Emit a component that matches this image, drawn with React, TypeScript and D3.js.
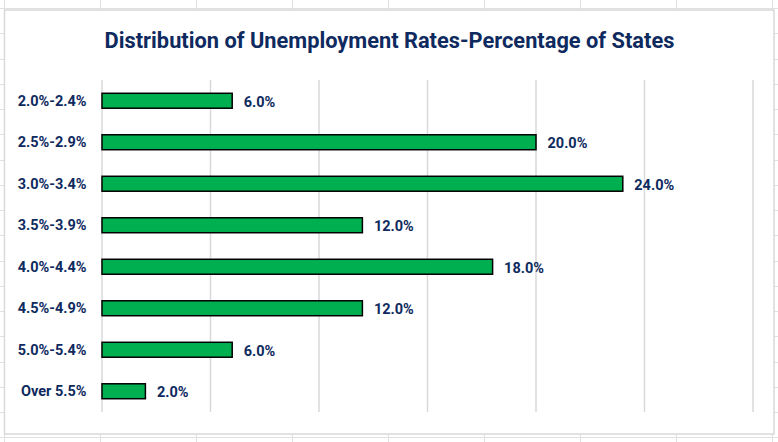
import React from "react";
import * as d3 from "d3";

const categories = ["2.0%-2.4%", "2.5%-2.9%", "3.0%-3.4%", "3.5%-3.9%", "4.0%-4.4%", "4.5%-4.9%", "5.0%-5.4%", "Over 5.5%"];
const values = [6.0, 20.0, 24.0, 12.0, 18.0, 12.0, 6.0, 2.0];
const xTicks = [0, 5, 10, 15, 20, 25, 30];
const title = "Distribution of Unemployment Rates-Percentage of States";

const W = 778;
const H = 442;
const NAVY = "#0E2A5E";
const FONT = "Roboto, 'Liberation Sans', Arial, sans-serif";

export default function App() {
  const x = d3.scaleLinear().domain([0, 30]).range([102, 753]);
  const y = d3.scaleBand<string>().domain(categories).range([80, 412]).paddingInner(0.64).paddingOuter(0.32);

  const sheetCols = d3.range(4, W + 1, 96);
  const sheetRows = d3.range(8, H + 1, 25.25);

  return (
    <svg width={W} height={H} style={{ position: "absolute", left: 0, top: 0, background: "#fff" }}>
      {/* spreadsheet gridlines */}
      <g stroke="#e1e1e1" strokeWidth={1}>
        {sheetCols.map((c) => (
          <line key={"c" + c} x1={c + 0.5} x2={c + 0.5} y1={0} y2={H} />
        ))}
        {sheetRows.map((r) => (
          <line key={"r" + r} x1={0} x2={W} y1={Math.round(r) + 0.5} y2={Math.round(r) + 0.5} />
        ))}
      </g>
      {/* chart area */}
      <rect x={4.5} y={10} width={769.5} height={424} fill="#fff" stroke="#d9d9d9" strokeWidth={1.5} />
      <text x={389.5} y={48} textAnchor="middle" fontFamily={FONT} fontWeight={700} fontSize={21.8} fill={NAVY}>
        {title}
      </text>
      {/* value gridlines */}
      <g stroke="#d9d9d9" strokeWidth={1.5}>
        {xTicks.map((t) => (
          <line key={t} x1={x(t)} x2={x(t)} y1={80} y2={412} />
        ))}
      </g>
      {/* bars */}
      {categories.map((c, i) => (
        <g key={c}>
          <rect
            x={x(0)}
            y={y(c)!}
            width={x(values[i]) - x(0)}
            height={y.bandwidth()}
            fill="#00B050"
            stroke="#000"
            strokeWidth={1.5}
          />
          <text
            x={x(values[i]) + 11.5}
            y={y(c)! + y.bandwidth() / 2 + 1}
            dy="0.35em"
            fontFamily={FONT}
            fontWeight={700}
            fontSize={14.5}
            fill={NAVY}
          >
            {values[i].toFixed(1) + "%"}
          </text>
          <text
            x={86.5}
            y={y(c)! + y.bandwidth() / 2}
            dy="0.35em"
            textAnchor="end"
            fontFamily={FONT}
            fontWeight={700}
            fontSize={14.5}
            fill={NAVY}
          >
            {c}
          </text>
        </g>
      ))}
    </svg>
  );
}
